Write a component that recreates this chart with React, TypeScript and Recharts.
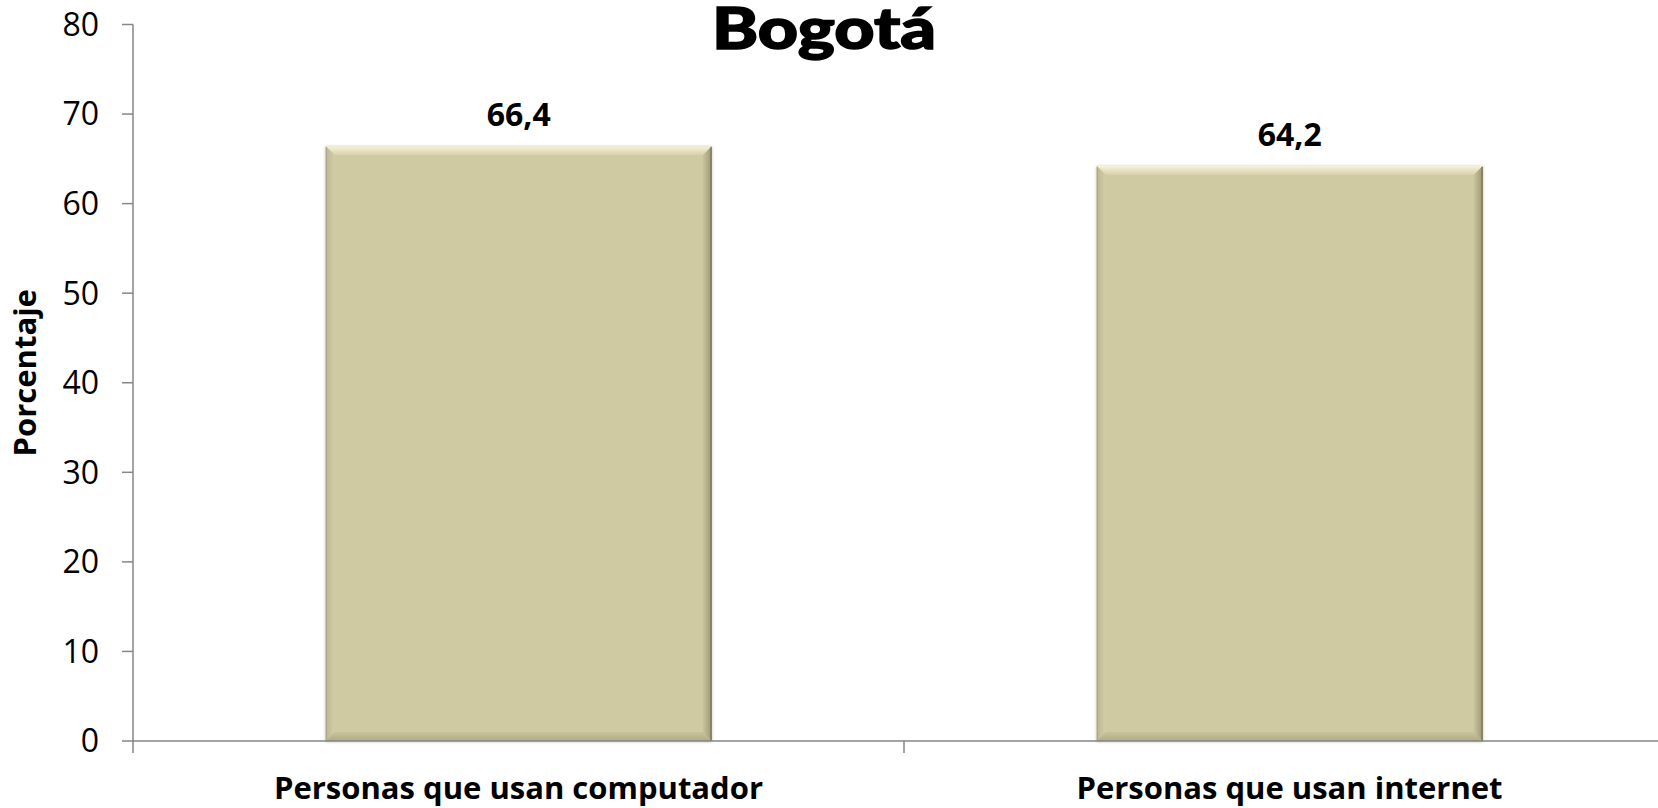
import React from 'react';
import { BarChart, Bar, XAxis, YAxis, LabelList } from 'recharts';

const categories = ['Personas que usan computador', 'Personas que usan internet'];
const values = [66.4, 64.2];
const yTicks = [0, 10, 20, 30, 40, 50, 60, 70, 80];
const title = 'Bogotá';
const yLabel = 'Porcentaje';

const data = categories.map((c, i) => ({ name: c, value: values[i] }));

const FONT = '"Open Sans", "DejaVu Sans", sans-serif';
const AXIS = '#868686';
const FACE = '#CFCAA2';

function BevelBar(props: any) {
  const { x, y, width: w, height: h, index } = props;
  if (!w || !h) return null;
  const b = Math.min(9, w / 2, h / 2);
  const id = `bev${index}`;
  return (
    <g>
      <defs>
        <linearGradient id={`${id}top`} x1="0" y1="0" x2="0" y2="1">
          <stop offset="0%" stopColor="#F6F2D6" />
          <stop offset="100%" stopColor="#D6D1AA" />
        </linearGradient>
        <linearGradient id={`${id}right`} x1="0" y1="0" x2="1" y2="0">
          <stop offset="0%" stopColor="#C9C49D" />
          <stop offset="100%" stopColor="#9E9975" />
        </linearGradient>
        <linearGradient id={`${id}bottom`} x1="0" y1="0" x2="0" y2="1">
          <stop offset="0%" stopColor="#C8C39C" />
          <stop offset="100%" stopColor="#B0AB86" />
        </linearGradient>
        <linearGradient id={`${id}left`} x1="0" y1="0" x2="1" y2="0">
          <stop offset="0%" stopColor="#BDB892" />
          <stop offset="100%" stopColor="#D2CDA6" />
        </linearGradient>
        <filter id={`${id}sh`} x="-5%" y="-5%" width="110%" height="110%">
          <feDropShadow dx="0" dy="0.5" stdDeviation="1.5" floodColor="#000" floodOpacity="0.3" />
        </filter>
      </defs>
      <rect x={x} y={y} width={w} height={h} fill={FACE} filter={`url(#${id}sh)`} />
      <polygon points={`${x},${y} ${x + w},${y} ${x + w - b},${y + b} ${x + b},${y + b}`} fill={`url(#${id}top)`} />
      <polygon points={`${x},${y} ${x + b},${y + b} ${x + b},${y + h - b} ${x},${y + h}`} fill={`url(#${id}left)`} />
      <polygon points={`${x + w},${y} ${x + w},${y + h} ${x + w - b},${y + h - b} ${x + w - b},${y + b}`} fill={`url(#${id}right)`} />
      <polygon points={`${x},${y + h} ${x + b},${y + h - b} ${x + w - b},${y + h - b} ${x + w},${y + h}`} fill={`url(#${id}bottom)`} />
      <line x1={x + w - 0.75} y1={y + 1} x2={x + w - 0.75} y2={y + h} stroke="#7E7A5C" strokeWidth={1.5} />
      <line x1={x + 0.5} y1={y + 1} x2={x + 0.5} y2={y + h} stroke="#A8A382" strokeWidth={1} />
    </g>
  );
}

function CatTick(props: any) {
  const { x, y, payload, index, visibleTicksCount } = props;
  const half = payload && payload.offset ? payload.offset : 385;
  const left = x - half;
  const right = x + half;
  const count = visibleTicksCount || categories.length;
  return (
    <g>
      <line x1={left} y1={y} x2={left} y2={y + 12} stroke={AXIS} strokeWidth={1.5} />
      {index === count - 1 ? (
        <line x1={right} y1={y} x2={right} y2={y + 12} stroke={AXIS} strokeWidth={1.5} />
      ) : null}
      <text x={x} y={y + 58} textAnchor="middle" fontFamily={FONT} fontWeight={700} fontSize={31} fill="#000">
        {payload.value}
      </text>
    </g>
  );
}

function YLabel(props: any) {
  const vb = props.viewBox || { x: 0, y: 24.5, width: 133, height: 716 };
  const cx = vb.x + 24;
  const cy = vb.y + vb.height / 2 - 10;
  return (
    <text
      x={cx}
      y={cy}
      transform={`rotate(-90, ${cx}, ${cy})`}
      textAnchor="middle"
      dominantBaseline="central"
      fontFamily={FONT}
      fontWeight={700}
      fontSize={31}
      fill="#000"
    >
      {yLabel}
    </text>
  );
}

export default function App() {
  return (
    <div style={{ position: 'fixed', left: 0, top: 0, width: 1658, height: 808, overflow: 'hidden', background: '#fff' }}>
      <BarChart
        width={1700}
        height={808}
        data={data}
        margin={{ top: 24.5, right: 25, bottom: 7, left: 0 }}
        barCategoryGap="25%"
      >
        <XAxis
          dataKey="name"
          height={60}
          stroke={AXIS}
          strokeWidth={1.5}
          tickLine={false}
          tickSize={0}
          tickMargin={0}
          tick={<CatTick />}
          interval={0}
        />
        <YAxis
          width={133}
          domain={[0, 80]}
          ticks={yTicks}
          interval={0}
          stroke={AXIS}
          strokeWidth={1.5}
          tickSize={11}
          tickMargin={23}
          tick={{ fontFamily: FONT, fontSize: 32, fill: '#000' }}
          label={<YLabel />}
        />
        <Bar dataKey="value" isAnimationActive={false} shape={<BevelBar />}>
          <LabelList
            dataKey="value"
            position="top"
            offset={20}
            formatter={(v: any) => Number(v).toFixed(1).replace('.', ',')}
            style={{ fontFamily: FONT, fontWeight: 700, fontSize: 32, fill: '#000' }}
          />
        </Bar>
      </BarChart>
      <svg width={1658} height={808} style={{ position: 'absolute', left: 0, top: 0, pointerEvents: 'none' }}>
        <text
          x={824}
          y={49}
          textAnchor="middle"
          fontFamily='"Lato", "DejaVu Sans", sans-serif'
          fontWeight={900}
          fontSize={58}
          textLength={224}
          lengthAdjust="spacingAndGlyphs"
          stroke="#000"
          strokeWidth={1.5}
          fill="#000"
        >
          {title}
        </text>
      </svg>
    </div>
  );
}
